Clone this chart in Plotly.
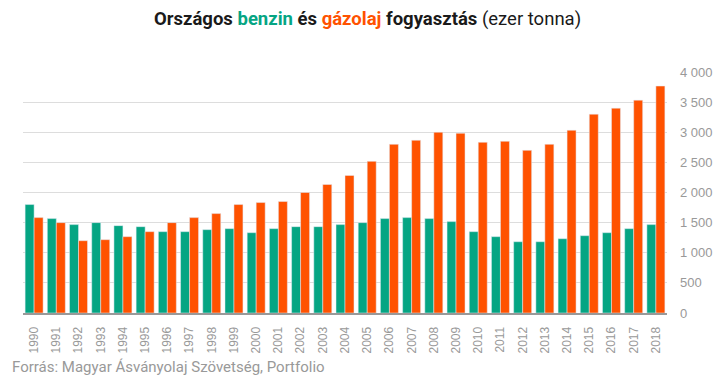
import plotly.graph_objects as go

years = [str(y) for y in range(1990, 2019)]
benzin = [1800, 1567, 1467, 1500, 1450, 1433, 1350, 1350, 1383, 1400,
          1333, 1400, 1433, 1433, 1467, 1500, 1567, 1583, 1567, 1517,
          1350, 1267, 1183, 1183, 1233, 1283, 1333, 1400, 1467]
gazolaj = [1583, 1500, 1200, 1217, 1267, 1350, 1500, 1583, 1650, 1800,
           1833, 1850, 2000, 2133, 2283, 2517, 2800, 2867, 3000, 2983,
           2833, 2850, 2700, 2800, 3033, 3300, 3400, 3533, 3767]
y_ticks = [0, 500, 1000, 1500, 2000, 2500, 3000, 3500, 4000]
y_tick_labels = ["0", "500", "1 000", "1 500", "2 000", "2 500", "3 000", "3 500", "4 000"]

GREEN = "#05A583"
ORANGE = "#FF5200"

fig = go.Figure()
fig.add_trace(go.Bar(x=years, y=benzin, name="benzin", marker_color=GREEN))
fig.add_trace(go.Bar(x=years, y=gazolaj, name="gázolaj", marker_color=ORANGE))

fig.update_layout(
    width=719, height=378,
    margin=dict(l=23, r=52, t=72, b=65),
    paper_bgcolor="white", plot_bgcolor="white",
    barmode="group", bargap=0.19, bargroupgap=0,
    showlegend=False,
    font=dict(family="Liberation Sans, Arial", color="#999999"),
)
fig.update_xaxes(
    type="category", tickangle=-90, tickfont=dict(size=12, color="#999999"),
    showgrid=False, showline=True, linecolor="#999999", linewidth=2,
    ticks="", ticklabelstandoff=7, automargin=False,
)
fig.update_yaxes(
    side="right", range=[0, 4000], tickvals=y_ticks, ticktext=y_tick_labels,
    tickfont=dict(size=13, color="#999999"), showgrid=True, gridcolor="#dddddd",
    gridwidth=1, zeroline=False, ticks="", ticklabelstandoff=12, automargin=False,
)

title = ("<b>Országos <span style='color:%s'>benzin</span> és "
         "<span style='color:%s'>gázolaj</span> fogyasztás</b> (ezer tonna)") % (GREEN, ORANGE)
fig.add_annotation(
    text=title, xref="paper", yref="paper", x=0.535, y=1, yshift=53,
    xanchor="center", yanchor="middle", showarrow=False,
    font=dict(family="Roboto", size=18.5, color="#1a1a1a"),
)
fig.add_annotation(
    text="Forrás: Magyar Ásványolaj Szövetség, Portfolio",
    xref="paper", yref="paper", x=0, xshift=-13, y=0, yshift=-54,
    xanchor="left", yanchor="middle", showarrow=False,
    font=dict(family="Roboto", size=15, color="#999999"),
)

fig.write_html("out.html", config={"displayModeBar": False},
               post_script="document.body.style.margin='0';")
